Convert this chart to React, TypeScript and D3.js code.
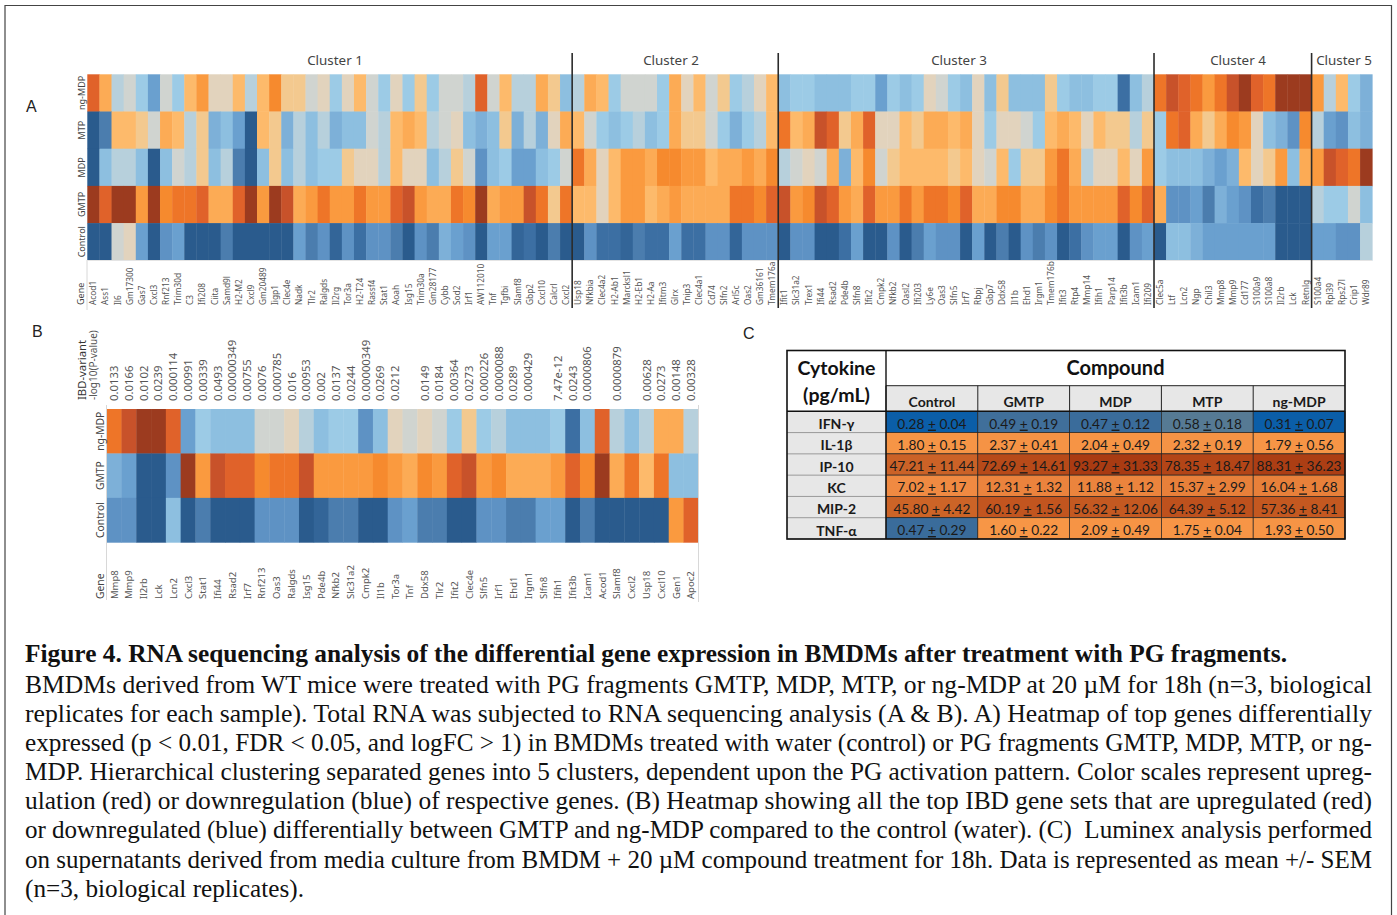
import React from "react";
import * as d3 from "d3";

// ---------- Panel A ----------
const cluster1Genes = ["Acod1","Ass1","Il6","Gm17300","Gas7","Cxcl3","Rnf213","Trim30d","C3","Ifi208","Ciita","Samd9l","H2-M2","Cxcl9","Gm20489","Iigp1","Clec4e","Nadk","Tlr2","Ralgds","Il2rg","Tor3a","H2-T24","Rassf4","Stat1","Aoah","Isg15","Trim30a","Gm28177","Cybb","Sod2","Irf1","AW112010","Tnf","Tgfbi","Slamf8","Gbp2","Cxcl10","Calcrl","Cxcl2"];
const cluster2Genes = ["Usp18","Nfkbia","Clec4a2","H2-Ab1","Marcksl1","H2-Eb1","H2-Aa","Ifitm3","Glrx","Tnip3","Clec4a1","Cd74","Slfn2","Arl5c","Oas2","Gm36161","Tmem176a"];
const cluster3Genes = ["Ifit1","Slc31a2","Trex1","Ifi44","Rsad2","Pde4b","Slfn8","Ifit2","Cmpk2","Nfkb2","Oasl2","Ifi203","Ly6e","Oas3","Slfn5","Irf7","Rbpj","Gbp7","Ddx58","Il1b","Ehd1","Irgm1","Tmem176b","Ifit3","Rtp4","Mmp14","Ifih1","Parp14","Ifit3b","Icam1","Ifi209"];
const cluster4Genes = ["Clec5a","Ltf","Lcn2","Ngp","Chil3","Mmp8","Mmp9","Cd177","S100a9","S100a8","Il2rb","Lck","Retnlg"];
const cluster5Genes = ["S100a4","Rpl39","Rps27l","Crip1","Wdr89"];
const clusterNames = ["Cluster 1","Cluster 2","Cluster 3","Cluster 4","Cluster 5"];
const rowNamesA = ["ng-MDP","MTP","MDP","GMTP","Control"];

const ngMdpA = [
  8,4,-1,0,-2,-5,0,-2,3,5,1,1,3,-1,3,6,2,2,0,1,-2,1,3,0,-2,1,-2,2,-2,0,0,-1,8,0,3,-1,-1,4,2,-3,
  -1,4,3,-2,0,0,0,-2,4,1,3,0,2,-2,-1,1,3,
  -3,-2,-2,-3,-3,-3,-2,-2,-5,-2,-3,-2,1,0,-2,-3,1,-3,2,-3,-3,-3,2,-2,-3,-3,-2,-2,-8,-3,-1,
  7,9,8,7,5,7,9,10,8,7,10,10,10,
  5,-1,3,-2,-4,
];
const mtpA = [
  -10,-7,3,3,2,0,4,3,-1,2,-4,-3,-5,-10,3,2,-4,-1,-3,-1,-4,-3,-3,0,-1,3,4,3,-1,0,1,-3,-4,-3,2,-4,-1,-4,1,4,
  3,0,-2,-3,-2,-1,-3,-2,4,2,2,0,-2,-4,-2,-1,3,
  7,3,4,9,8,2,4,8,1,1,3,2,4,4,3,4,1,-2,1,1,0,-2,3,4,3,1,3,2,2,-1,2,
  -2,7,8,4,2,4,6,5,1,-3,-4,-6,6,
  -1,-5,-6,-3,-4,
];
const mdpA = [
  -10,-3,-1,-1,-3,-10,-3,0,-1,2,-3,-1,-7,-10,-3,2,-3,-1,-3,-2,-2,2,1,1,-1,3,1,1,-3,-1,2,0,-6,-3,-2,-5,-5,-3,-2,0,
  7,4,1,3,5,5,4,6,6,5,5,3,4,4,5,4,6,
  -1,0,1,0,4,-4,3,6,0,2,3,3,3,3,2,3,1,0,3,-2,2,2,5,7,4,-1,1,1,3,1,5,
  -2,-3,-3,-3,-4,-5,-4,3,1,2,5,-3,4,
  5,9,8,7,10,
];
const gmtpA = [
  10,8,10,10,5,10,6,7,7,8,4,4,8,10,5,10,9,4,5,7,5,5,7,5,5,8,9,5,4,4,7,6,10,4,5,5,9,7,2,7,
  3,3,1,3,5,5,3,4,5,4,4,4,4,7,7,6,8,
  9,5,6,9,8,5,4,8,5,5,7,5,7,7,6,8,4,4,6,6,4,4,6,7,5,5,5,5,8,6,8,
  4,-6,-6,-5,-7,-4,-5,-6,-8,-7,-10,-10,-10,
  -1,-2,-2,0,-3,
];
const controlA = [
  -10,-10,0,1,-5,-10,-6,-5,-10,-10,-10,-7,-10,-10,-10,-10,-10,-5,-7,-6,-9,-6,-8,-6,-6,-7,-10,-6,-7,-4,-5,-6,-10,-5,-5,-9,-8,-10,-7,-10,
  -10,-6,-8,-8,-9,-7,-8,-8,-5,-8,-8,-6,-6,-9,-6,-6,-6,
  -10,-6,-6,-10,-10,-8,-5,-10,-10,-6,-10,-7,-5,-6,-6,-10,-5,-10,-7,-10,-6,-7,-6,-10,-8,-6,-5,-5,-10,-6,-5,
  -10,-3,-3,-4,-5,-5,-5,-5,-5,-5,-10,-10,-10,
  -5,-5,-6,-6,-1,
];

// ---------- Panel B ----------
const genesB = ["Mmp8","Mmp9","Il2rb","Lck","Lcn2","Cxcl3","Stat1","Ifi44","Rsad2","Irf7","Rnf213","Oas3","Ralgds","Isg15","Pde4b","Nfkb2","Slc31a2","Cmpk2","Il1b","Tor3a","Tnf","Ddx58","Tlr2","Ifit2","Clec4e","Slfn5","Irf1","Ehd1","Irgm1","Slfn8","Ifih1","Ifit3b","Icam1","Acod1","Slamf8","Cxcl2","Usp18","Cxcl10","Gen1","Apoc2"];
const pValuesB = ["0.0133","0.0166","0.0102","0.0239","0.000114","0.00991","0.00339","0.0493","0.00000349","0.00755","0.0076","0.000785","0.016","0.00953","0.002","0.0137","0.0244","0.00000349","0.0269","0.0212","","0.0149","0.0184","0.00364","0.0273","0.000226","0.0000088","0.0289","0.000429","","7.47e-12","0.0243","0.0000806","","0.0000879","","0.00628","0.0273","0.00148","0.00328"];
const rowNamesB = ["ng-MDP","GMTP","Control"];
const ngMdpB = [7,9,10,10,8,-5,-2,-3,-3,-3,0,0,1,-1,-3,-2,-2,-6,-3,1,0,1,0,-2,2,-2,-1,-3,-3,-3,-2,-8,-3,8,-1,-3,-1,4,4,-1];
const gmtpB = [-4,-5,-10,-10,-6,10,5,9,8,8,6,7,7,9,5,5,5,5,6,5,4,6,5,8,9,5,6,4,4,4,5,8,6,10,4,7,3,7,-3,-3];
const controlB = [-6,-6,-10,-10,-3,-10,-7,-10,-10,-10,-6,-6,-6,-10,-9,-7,-7,-10,-10,-6,-5,-7,-7,-10,-10,-6,-6,-7,-7,-5,-5,-10,-7,-10,-10,-10,-10,-10,5,8];

// ---------- Panel C ----------
const compounds = ["Control","GMTP","MDP","MTP","ng-MDP"];
const cytokines = ["IFN-γ","IL-1β","IP-10","KC","MIP-2","TNF-α"];
const ifnMeans = [0.28,0.49,0.47,0.58,0.31];
const ifnSems = ["0.04","0.19","0.12","0.18","0.07"];
const il1bMeans = [1.80,2.37,2.04,2.32,1.79];
const il1bSems = ["0.15","0.41","0.49","0.19","0.56"];
const ip10Means = [47.21,72.69,93.27,78.35,88.31];
const ip10Sems = ["11.44","14.61","31.33","18.47","36.23"];
const kcMeans = [7.02,12.31,11.88,15.37,16.04];
const kcSems = ["1.17","1.32","1.12","2.99","1.68"];
const mip2Means = [45.80,60.19,56.32,64.39,57.36];
const mip2Sems = ["4.42","1.56","12.06","5.12","8.41"];
const tnfMeans = [0.47,1.60,2.09,1.75,1.93];
const tnfSems = ["0.29","0.22","0.49","0.04","0.50"];
const tableMeans = [ifnMeans,il1bMeans,ip10Means,kcMeans,mip2Means,tnfMeans];
const tableSems = [ifnSems,il1bSems,ip10Sems,kcSems,mip2Sems,tnfSems];

// ---------- Caption ----------
const captionTitle = "Figure 4. RNA sequencing analysis of the differential gene expression in BMDMs after treatment with PG fragments.";
const captionLines = [
  "BMDMs derived from WT mice were treated with PG fragments GMTP, MDP, MTP, or ng-MDP at 20 µM for 18h (n=3, biological",
  "replicates for each sample). Total RNA was subjected to RNA sequencing analysis (A & B). A) Heatmap of top genes differentially",
  "expressed (p < 0.01, FDR < 0.05, and logFC > 1) in BMDMs treated with water (control) or PG fragments GMTP, MDP, MTP, or ng-",
  "MDP. Hierarchical clustering separated genes into 5 clusters, dependent upon the PG activation pattern. Color scales represent upreg-",
  "ulation (red) or downregulation (blue) of respective genes. (B) Heatmap showing all the top IBD gene sets that are upregulated (red)",
  "or downregulated (blue) differentially between GMTP and ng-MDP compared to the control (water). (C)  Luminex analysis performed",
  "on supernatants derived from media culture from BMDM + 20 µM compound treatment for 18h. Data is represented as mean +/- SEM",
  "(n=3, biological replicates).",
];

// ---------- Scales ----------
const heatColor = d3.scaleLinear<string>()
  .domain([-10,-8,-7,-6,-5,-4,-3,-2,-1,0,1,2,3,4,5,6,7,8,9,10])
  .range(["#2a5b8d","#3c6fa3","#4b7dae","#5e92c4","#6aa0cf","#7db0d8","#8dbfe0","#9ccbe6","#b7d0dc","#d0d4d0","#e2d3bd","#f3c98f","#fdba6b","#fcab55","#fa9a3f","#f68a2e","#ee7528","#e0622a","#c8522a","#9c3b1f"]);

const tableColor = d3.scaleLog<string>()
  .domain([0.28,0.31,0.47,0.58,1.0,1.6,7,16,45,60,93])
  .range(["#0b5ea8","#0b5ea8","#3a6c9b","#567a94","#c9894f","#f79646","#f08a42","#e8803a","#cd6528","#c2551f","#a93b12"]);

const SANS = "'Noto Sans', 'Open Sans', sans-serif";
const CAL = "Lato, 'Open Sans', sans-serif";
const SERIF = "'Liberation Serif', serif";
const LABEL = "#555";

const genesA = [...cluster1Genes,...cluster2Genes,...cluster3Genes,...cluster4Genes,...cluster5Genes];
const valuesA = [ngMdpA,mtpA,mdpA,gmtpA,controlA];
const valuesB = [ngMdpB,gmtpB,controlB];
const clusterSizes = [cluster1Genes,cluster2Genes,cluster3Genes,cluster4Genes,cluster5Genes].map(c=>c.length);

function Heat({xs,ys,genes,rows,values}:{xs:any,ys:any,genes:string[],rows:string[],values:number[][]}){
  return <g>{rows.map((r,i)=>genes.map((g,j)=>(
    <rect key={r+g+j} x={xs(g)} y={ys(r)} width={xs.bandwidth()+0.4} height={ys.bandwidth()+0.4} fill={heatColor(values[i][j])}/>
  )))}</g>;
}

function PanelA(){
  const xs = d3.scaleBand<string>().domain(genesA).range([87.3,1372.2]).paddingInner(0).paddingOuter(0);
  const ys = d3.scaleBand<string>().domain(rowNamesA).range([74.3,260.3]).paddingInner(0);
  const cum = d3.cumsum(clusterSizes);
  const lines = Array.from(cum).slice(0,4).map(c=>87.3+c*xs.bandwidth());
  const titleX = [335,671,959,1238,1344];
  return <g>
    <Heat xs={xs} ys={ys} genes={genesA} rows={rowNamesA} values={valuesA}/>
    {rowNamesA.map(r=>(
      <text key={r} transform={`translate(85,${ys(r)!+ys.bandwidth()/2}) rotate(-90)`} textAnchor="middle" fontFamily={SANS} fontSize={9} fill="#444">{r}</text>
    ))}
    <line x1={87} x2={87} y1={260} y2={310} stroke="#d8d8d8"/>
    <line x1={87} x2={1372} y1={260.5} y2={260.5} stroke="#e4e4e4"/>
    <text transform="translate(84,305) rotate(-90)" fontFamily={SANS} fontSize={9} fill="#444">Gene</text>
    {genesA.map((g,j)=>(
      <text key={g+j} transform={`translate(${xs(g)!+xs.bandwidth()/2+3},305) rotate(-90)`} fontFamily={SANS} fontSize={8.3} fill={LABEL}>{g}</text>
    ))}
    {lines.map(x=>(<line key={x} x1={x} x2={x} y1={53} y2={308} stroke="#2b2b2b" strokeWidth={1.6}/>))}
    {clusterNames.map((c,i)=>(
      <text key={c} x={titleX[i]} y={64.5} textAnchor="middle" fontFamily={SANS} fontSize={13.4} fill="#444">{c}</text>
    ))}
  </g>;
}

function PanelB(){
  const xs = d3.scaleBand<string>().domain(genesB).range([106.7,698.3]);
  const ys = d3.scaleBand<string>().domain(rowNamesB).range([409,542.3]);
  return <g>
    <Heat xs={xs} ys={ys} genes={genesB} rows={rowNamesB} values={valuesB}/>
    <line x1={106.5} x2={106.5} y1={405} y2={600} stroke="#d8d8d8"/>
    <line x1={698.5} x2={698.5} y1={405} y2={602} stroke="#d8d8d8"/>
    {rowNamesB.map(r=>(
      <text key={r} transform={`translate(104,${ys(r)!+ys.bandwidth()/2}) rotate(-90)`} textAnchor="middle" fontFamily={SANS} fontSize={10.3} fill="#444">{r}</text>
    ))}
    <text transform="translate(86,400) rotate(-90)" fontFamily={SANS} fontSize={11.3} fill="#333">IBD-variant</text>
    <text transform="translate(97,400) rotate(-90)" fontFamily={SANS} fontSize={10} fill={LABEL}>-log10(P-value)</text>
    <text transform="translate(104,599) rotate(-90)" fontFamily={SANS} fontSize={10.3} fill="#444">Gene</text>
    {genesB.map((g,j)=>(
      <text key={g} transform={`translate(${xs(g)!+xs.bandwidth()/2+3.5},599) rotate(-90)`} fontFamily={SANS} fontSize={9.5} fill={LABEL}>{g}</text>
    ))}
    {pValuesB.map((p,j)=>p && (
      <text key={j} transform={`translate(${xs(genesB[j])!+xs.bandwidth()/2+4},401) rotate(-90)`} fontFamily={SANS} fontSize={11.3} fill={LABEL}>{p}</text>
    ))}
  </g>;
}

function PanelC(){
  const left = 787, col0 = 886, right = 1345;
  const xs = d3.scaleBand<string>().domain(compounds).range([col0,right]);
  const ys = d3.scaleBand<string>().domain(cytokines).range([411.3,539]);
  const top = 350.5, h1 = 385.7;
  return <g>
    <rect x={left} y={ys(cytokines[0])} width={col0-left} height={ys.bandwidth()*6} fill="#e7e7e7"/>
    <rect x={col0} y={h1} width={right-col0} height={411.3-h1} fill="#e7e7e7"/>
    {cytokines.map((c,i)=>(
      <g key={c}>
        <text x={(left+col0)/2} y={ys(c)!+ys.bandwidth()-3.5} textAnchor="middle" fontFamily={CAL} fontWeight={700} fontSize={14} fill="#1a1a1a">{c}</text>
        {compounds.map((k,j)=>{
          const mean = tableMeans[i][j];
          return <g key={k}>
            <rect x={xs(k)} y={ys(c)} width={xs.bandwidth()} height={ys.bandwidth()} fill={tableColor(mean)} stroke="#222" strokeWidth={0.7}/>
            <text x={xs(k)!+xs.bandwidth()/2} y={ys(c)!+ys.bandwidth()-4} textAnchor="middle" fontFamily={CAL} fontSize={13.7} fill="#1a1a1a">
              {mean.toFixed(2)} <tspan textDecoration="underline">+</tspan> {tableSems[i][j]}
            </text>
          </g>;
        })}
        <line x1={left} x2={col0} y1={ys(c)!+ys.bandwidth()} y2={ys(c)!+ys.bandwidth()} stroke="#777" strokeWidth={0.7}/>
      </g>
    ))}
    {compounds.map(k=>(
      <g key={k}>
        <line x1={xs(k)} x2={xs(k)} y1={h1} y2={411.3} stroke="#222"/>
        <text x={xs(k)!+xs.bandwidth()/2} y={407} textAnchor="middle" fontFamily={CAL} fontWeight={700} fontSize={14} fill="#1a1a1a">{k}</text>
      </g>
    ))}
    <line x1={col0} x2={right} y1={h1} y2={h1} stroke="#222"/>
    <line x1={left} x2={right} y1={411.3} y2={411.3} stroke="#111" strokeWidth={1.4}/>
    <rect x={left} y={top} width={right-left} height={539-top} fill="none" stroke="#111" strokeWidth={1.6}/>
    <line x1={col0} x2={col0} y1={top} y2={539} stroke="#111" strokeWidth={1.4}/>
    <text x={(left+col0)/2} y={375} textAnchor="middle" fontFamily={CAL} fontWeight={700} fontSize={19.5} fill="#111">Cytokine</text>
    <text x={(left+col0)/2} y={402} textAnchor="middle" fontFamily={CAL} fontWeight={700} fontSize={19.5} fill="#111">(pg/mL)</text>
    <text x={(col0+right)/2} y={374.5} textAnchor="middle" fontFamily={CAL} fontWeight={700} fontSize={20} fill="#111">Compound</text>
  </g>;
}

function Caption(){
  const baselines = [693,722,751,780,809,838,868,897];
  const ends = [1372,1372,1372,1372,1372,1372,1372,304];
  return <g fontFamily={SERIF} fontSize={24.5} fill="#111">
    <text x={25} y={662} fontWeight={700} textLength={1262} lengthAdjust="spacingAndGlyphs">{captionTitle}</text>
    {captionLines.map((l,i)=>(
      <text key={i} x={25} y={baselines[i]} textLength={ends[i]-25} lengthAdjust="spacingAndGlyphs" style={{whiteSpace:"pre"}}>{l}</text>
    ))}
  </g>;
}

export default function App(){
  return (
    <svg width={1397} height={915} style={{position:"absolute",left:0,top:0,background:"#fff"}}>
      <path d="M5,915 V5.5 H1391.5 V915" fill="none" stroke="#444" strokeWidth={1.2}/>
      <text x={26} y={112} fontFamily="'Liberation Sans', sans-serif" fontSize={16} fill="#222">A</text>
      <text x={32} y={337} fontFamily="'Liberation Sans', sans-serif" fontSize={16} fill="#222">B</text>
      <text x={743} y={339} fontFamily="'Liberation Sans', sans-serif" fontSize={16} fill="#222">C</text>
      <PanelA/>
      <PanelB/>
      <PanelC/>
      <Caption/>
    </svg>
  );
}
